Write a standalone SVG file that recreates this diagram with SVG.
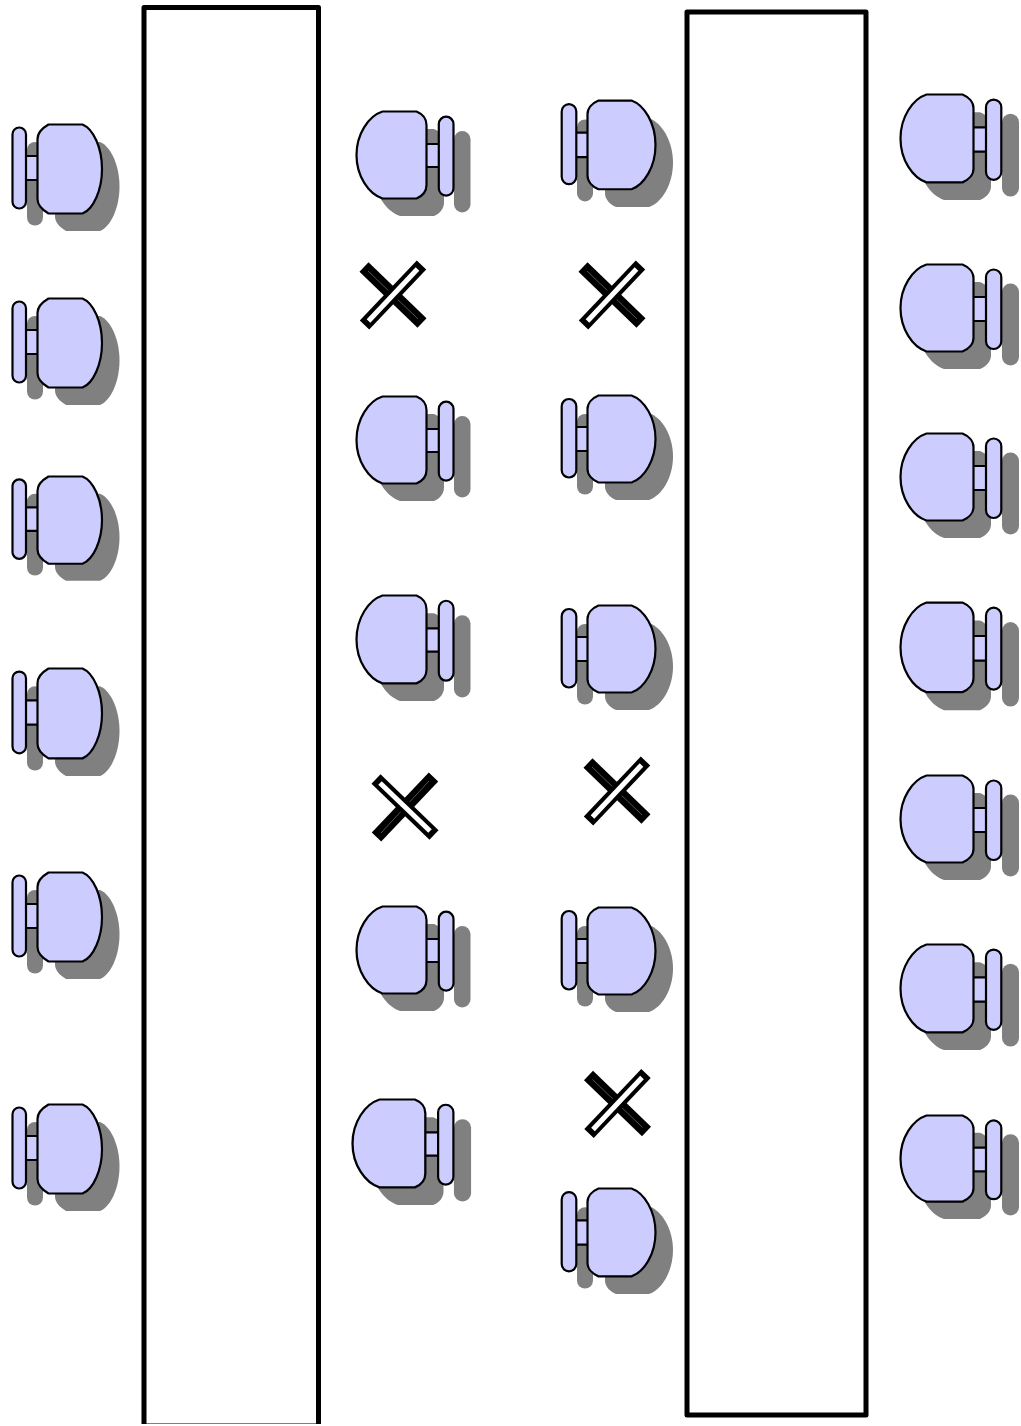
<svg xmlns="http://www.w3.org/2000/svg" xmlns:xlink="http://www.w3.org/1999/xlink" width="1021" height="1426" viewBox="0 0 1021 1426">
<style>
.table{fill:#fff;stroke:#000;stroke-width:5;stroke-linejoin:round}
.sh{fill:#808080;stroke:none}
.p{fill:#ccccff;stroke:#000;stroke-width:2.200;vector-effect:non-scaling-stroke}
.bk{stroke:#000;stroke-width:13;fill:none}
.wt{stroke:#fff;stroke-width:5;fill:none}
.hl{stroke:#777;stroke-width:.7;fill:none}
</style>
<defs>
<path id="sa" d="M11 .5H45C56 5 64.500 24 64.500 45C64.500 66 56 85 45 89.500H11C5 86 0 81 0 75V15C0 9 5 4 11 .5Z"/>
<g id="chairA">
<g class="sh"><use xlink:href="#sa" x="25.500" transform="translate(17.500,17.500)"/><rect x="15" y="18" width="16" height="83.500" rx="8"/></g>
<rect class="p" x="10" y="32" width="20" height="24"/>
<rect class="p" x=".5" y="3.500" width="13.500" height="81" rx="6.750"/>
<use class="p" xlink:href="#sa" x="25.500"/>
</g>
<path id="sb" d="M60 .5H26C12 5 0 23 0 44C0 65 12 83 26 87.500H60C66 85 70 80 70 74V14C70 8 66 3 60 .5Z"/>
<g id="chairB">
<g class="sh"><use xlink:href="#sb" x=".5" transform="translate(17.500,17.500)"/><rect x="98" y="20" width="16.500" height="81.500" rx="8.250"/></g>
<rect class="p" x="62" y="33" width="24" height="23"/>
<use class="p" xlink:href="#sb" x=".5"/>
<rect class="p" x="82.800" y="5.700" width="14.700" height="79" rx="7.350"/>
</g>
<path id="sc" d="M11 .5H44C57 5 68 23 68 44C68 65 57 83 44 87.500H11C5 85 0 80 0 74V14C0 8 5 3 11 .5Z"/>
<g id="chairC">
<g class="sh"><use xlink:href="#sc" x="26.500" transform="translate(17.500,17.500)"/><rect x="16" y="19" width="16" height="80.500" rx="8"/></g>
<rect class="p" x="10" y="32" width="22" height="24"/>
<rect class="p" x=".7" y="4" width="14.600" height="78.500" rx="7.300"/>
<use class="p" xlink:href="#sc" x="26.500"/>
</g>
<path id="sd" d="M62 .5H26C12 5 0 23 0 44C0 65 12 83 26 87.500H62C68 85 73 80 73 74V14C73 8 68 3 62 .5Z"/>
<g id="chairD">
<g class="sh"><use xlink:href="#sd" x=".5" transform="translate(17.500,17.500)"/><rect x="102" y="19.500" width="17" height="82" rx="8.500"/></g>
<rect class="p" x="66" y="33" width="24" height="24"/>
<use class="p" xlink:href="#sd" x=".5"/>
<rect class="p" x="86" y="5.500" width="15.300" height="79.500" rx="7.650"/>
</g>
<g id="crossR">
<line class="bk" x1="-29" y1="-28" x2="29" y2="28"/>
<line class="hl" x1="-25" y1="-24" x2="25" y2="24"/>
<line class="bk" x1="-28.500" y1="30" x2="28.500" y2="-30"/>
<line class="wt" x1="-24.500" y1="26" x2="24.500" y2="-26"/>
</g>
<g id="crossF">
<line class="bk" x1="-28.500" y1="30" x2="28.500" y2="-30"/>
<line class="hl" x1="-24" y1="26" x2="24" y2="-26"/>
<line class="bk" x1="-29" y1="-28" x2="29" y2="28"/>
<line class="wt" x1="-25" y1="-24" x2="25" y2="24"/>
</g>
</defs>
<g id="table-left"><rect class="table" x="144" y="7.500" width="174.500" height="1418.500"/><rect x="0" y="1424" width="1021" height="2" fill="#fff"/></g>
<g id="table-right"><rect class="table" x="687" y="12" width="179" height="1403"/></g>

<g id="a1"><use xlink:href="#chairA" transform="translate(12,124)"/></g>
<g id="a2"><use xlink:href="#chairA" transform="translate(12,298)"/></g>
<g id="a3"><use xlink:href="#chairA" transform="translate(12,476) scale(1,.98)"/></g>
<g id="a4"><use xlink:href="#chairA" transform="translate(12,668) scale(1,1.01)"/></g>
<g id="a5"><use xlink:href="#chairA" transform="translate(12,872)"/></g>
<g id="a6"><use xlink:href="#chairA" transform="translate(12,1104)"/></g>

<g id="b1"><use xlink:href="#chairB" transform="translate(356,111)"/></g>
<g id="b2"><use xlink:href="#chairB" transform="translate(356,396)"/></g>
<g id="b3"><use xlink:href="#chairB" transform="translate(356,595) scale(1,1.01)"/></g>
<g id="b4"><use xlink:href="#chairB" transform="translate(356,906)"/></g>
<g id="b5"><use xlink:href="#chairB" transform="translate(352,1099) scale(1.04,1.01)"/></g>

<g id="c1"><use xlink:href="#chairC" transform="translate(561,100) scale(1,1.02)"/></g>
<g id="c2"><use xlink:href="#chairC" transform="translate(561,395)"/></g>
<g id="c3"><use xlink:href="#chairC" transform="translate(561,605)"/></g>
<g id="c4"><use xlink:href="#chairC" transform="translate(561,907)"/></g>
<g id="c5"><use xlink:href="#chairC" transform="translate(561,1188) scale(1,1.01)"/></g>

<g id="d1"><use xlink:href="#chairD" transform="translate(900,94) scale(1,1.01)"/></g>
<g id="d2"><use xlink:href="#chairD" transform="translate(900,264)"/></g>
<g id="d3"><use xlink:href="#chairD" transform="translate(900,433)"/></g>
<g id="d4"><use xlink:href="#chairD" transform="translate(900,602) scale(1,1.03)"/></g>
<g id="d5"><use xlink:href="#chairD" transform="translate(900,775)"/></g>
<g id="d6"><use xlink:href="#chairD" transform="translate(900,944) scale(1,1.01)"/></g>
<g id="d7"><use xlink:href="#chairD" transform="translate(900,1115) scale(1,.99)"/></g>

<g id="x1"><use xlink:href="#crossR" transform="translate(393,295)"/></g>
<g id="x2"><use xlink:href="#crossR" transform="translate(612,295)"/></g>
<g id="x3"><use xlink:href="#crossF" transform="translate(405,807)"/></g>
<g id="x4"><use xlink:href="#crossR" transform="translate(617,791)"/></g>
<g id="x5"><use xlink:href="#crossR" transform="translate(617.500,1103.500)"/></g>
<g id="connectors"/>
</svg>
